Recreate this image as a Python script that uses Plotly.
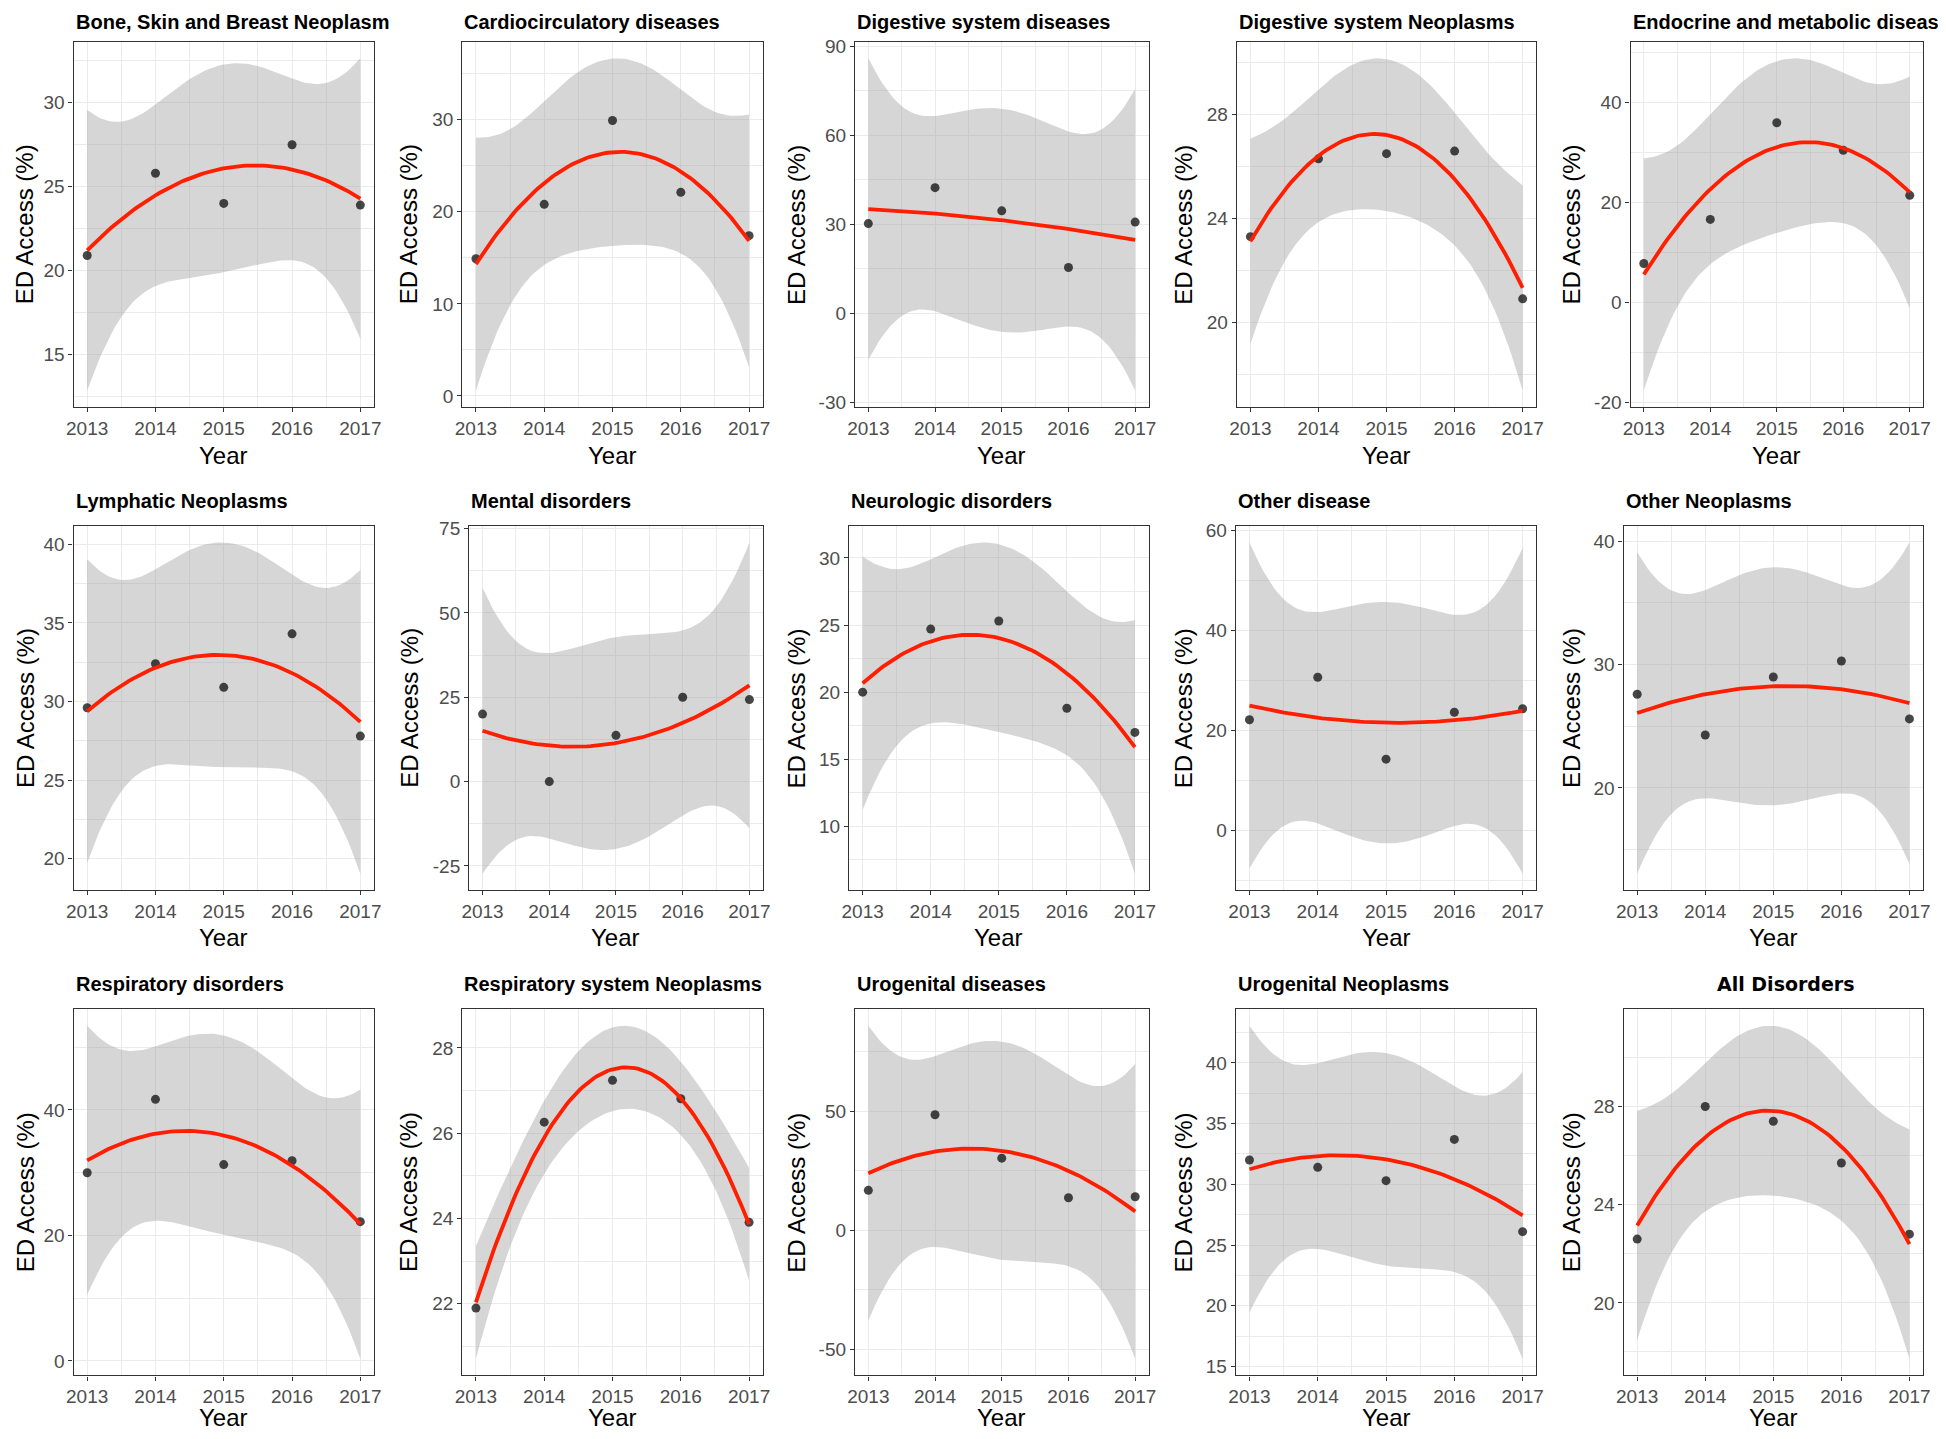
import numpy as np
import plotly.graph_objects as go

# the page keeps the browser's 8px body margin, so the figure is sized to fill
# the 1946x1439 window exactly and page pixels are shifted by OFF
PAGE_W, PAGE_H = 1946, 1439
OFF = 8
W, H = PAGE_W - 2 * OFF, PAGE_H - 2 * OFF

years = [2013, 2014, 2015, 2016, 2017]

bone_skin_breast = [20.9, 25.8, 24.0, 27.5, 23.9]
cardiocirculatory = [14.9, 20.8, 29.9, 22.1, 17.4]
digestive_diseases = [30.2, 42.3, 34.5, 15.4, 30.7]
digestive_neoplasms = [23.3, 26.3, 26.5, 26.6, 20.9]
endocrine_metabolic = [7.8, 16.6, 35.9, 30.4, 21.4]
lymphatic_neoplasms = [29.6, 32.4, 30.9, 34.3, 27.8]
mental_disorders = [20.0, 0.0, 13.7, 25.0, 24.3]
neurologic_disorders = [20.0, 24.7, 25.3, 18.8, 17.0]
other_disease = [22.1, 30.6, 14.2, 23.6, 24.3]
other_neoplasms = [27.6, 24.3, 29.0, 30.3, 25.6]
respiratory_disorders = [30.0, 41.7, 31.3, 31.9, 22.2]
respiratory_neoplasms = [21.9, 26.26, 27.24, 26.81, 23.91]
urogenital_diseases = [16.8, 48.5, 30.3, 13.7, 14.1]
urogenital_neoplasms = [32.0, 31.4, 30.3, 33.7, 26.1]
all_disorders = [22.6, 28.0, 27.4, 25.7, 22.8]

titles = [
    "Bone, Skin and Breast Neoplasm", "Cardiocirculatory diseases", "Digestive system diseases",
    "Digestive system Neoplasms", "Endocrine and metabolic diseases",
    "Lymphatic Neoplasms", "Mental disorders", "Neurologic disorders", "Other disease", "Other Neoplasms",
    "Respiratory disorders", "Respiratory system Neoplasms", "Urogenital diseases",
    "Urogenital Neoplasms", "All Disorders",
]

series = [
    bone_skin_breast, cardiocirculatory, digestive_diseases, digestive_neoplasms, endocrine_metabolic,
    lymphatic_neoplasms, mental_disorders, neurologic_disorders, other_disease, other_neoplasms,
    respiratory_disorders, respiratory_neoplasms, urogenital_diseases, urogenital_neoplasms, all_disorders,
]

y_ticks = [
    [15, 20, 25, 30], [0, 10, 20, 30], [-30, 0, 30, 60, 90], [20, 24, 28], [-20, 0, 20, 40],
    [20, 25, 30, 35, 40], [-25, 0, 25, 50, 75], [10, 15, 20, 25, 30], [0, 20, 40, 60], [20, 30, 40],
    [0, 20, 40], [22, 24, 26, 28], [-50, 0, 50], [15, 20, 25, 30, 35, 40], [20, 24, 28],
]

# panel frames in page pixels
frame_left = [
    [66, 458, 854, 1239, 1636],
    [66, 465, 848, 1238, 1629],
    [66, 458, 854, 1238, 1629],
]
frame_right = [369, 761, 1150, 1541, 1931]
frame_top = [34, 523, 1011]
frame_bottom = [403, 891, 1381]
title_y = [14, 498, 986]
xtitle_y = [452, 939, 1423]
ytitle_x = [17, 404, 795, 1185, 1576]

FONT = "Liberation Sans, Arial, sans-serif"
T_CRIT = 4.302653  # qt(0.975, df=2)


def px(p):
    return (p - OFF) / W


def py(p):
    return 1 - (p - OFF) / H


def quad_fit(xs, ys, n=80):
    x = np.asarray(xs, float) - 2015
    y = np.asarray(ys, float)
    X = np.column_stack([np.ones_like(x), x, x ** 2])
    beta, *_ = np.linalg.lstsq(X, y, rcond=None)
    resid = y - X @ beta
    s2 = resid @ resid / (len(y) - 3)
    xtx_inv = np.linalg.inv(X.T @ X)
    grid = np.linspace(x.min(), x.max(), n)
    G = np.column_stack([np.ones_like(grid), grid, grid ** 2])
    fit = G @ beta
    se = np.sqrt(s2 * np.einsum("ij,jk,ik->i", G, xtx_inv, G))
    return grid + 2015, fit, fit - T_CRIT * se, fit + T_CRIT * se


def minor_vals(ticks):
    step = ticks[1] - ticks[0]
    return [ticks[0] - step / 2] + [t + step / 2 for t in ticks]


fig = go.Figure()
annotations = []

for i, (title, values, ticks) in enumerate(zip(titles, series, y_ticks)):
    r, c = divmod(i, 5)
    n = i + 1
    xa = "x" if n == 1 else f"x{n}"
    ya = "y" if n == 1 else f"y{n}"

    gx, fit, lower, upper = quad_fit(years, values)

    fig.add_trace(go.Scatter(
        x=list(gx) + list(gx[::-1]), y=list(upper) + list(lower[::-1]),
        fill="toself", fillcolor="rgba(153,153,153,0.4)", line=dict(width=0),
        mode="lines", hoverinfo="skip", showlegend=False, xaxis=xa, yaxis=ya,
    ))
    fig.add_trace(go.Scatter(
        x=years, y=values, mode="markers",
        marker=dict(size=9, color="rgba(20,20,20,0.78)"),
        showlegend=False, xaxis=xa, yaxis=ya,
    ))
    fig.add_trace(go.Scatter(
        x=gx, y=fit, mode="lines", line=dict(color="#FF1E00", width=3.8),
        showlegend=False, xaxis=xa, yaxis=ya,
    ))

    lo = min(lower.min(), min(values))
    hi = max(upper.max(), max(values))
    pad = 0.05 * (hi - lo)

    common = dict(
        showline=True, mirror=True, linecolor="#333333", linewidth=1.3,
        ticks="outside", ticklen=4, tickcolor="#333333", tickwidth=1.2,
        showgrid=True, gridcolor="#EBEBEB", gridwidth=1.4, zeroline=False,
        tickfont=dict(family=FONT, size=19, color="#4D4D4D"),
    )
    xaxis = dict(common)
    xaxis.update(
        domain=[px(frame_left[r][c]), px(frame_right[c])], anchor=ya, range=[2012.8, 2017.2],
        tickmode="array", tickvals=years, ticktext=[str(v) for v in years],
        minor=dict(tickmode="array", tickvals=[2013.5, 2014.5, 2015.5, 2016.5],
                   showgrid=True, gridcolor="#EBEBEB", gridwidth=0.8, ticklen=0),
    )
    yaxis = dict(common)
    yaxis.update(
        domain=[py(frame_bottom[r]), py(frame_top[r])], anchor=xa, range=[lo - pad, hi + pad],
        tickmode="array", tickvals=ticks, ticktext=[str(t) for t in ticks],
        minor=dict(tickmode="array", tickvals=minor_vals(ticks),
                   showgrid=True, gridcolor="#EBEBEB", gridwidth=0.8, ticklen=0),
    )
    fig.layout["xaxis" if n == 1 else f"xaxis{n}"] = xaxis
    fig.layout["yaxis" if n == 1 else f"yaxis{n}"] = yaxis

    # panel title
    if title == "All Disorders":
        annotations.append(dict(
            text="<b>All Disorders</b>", x=px(1793), y=py(title_y[r]),
            xref="paper", yref="paper", xanchor="center", yanchor="middle", showarrow=False,
            font=dict(family="DejaVu Sans, sans-serif", size=19, color="black"),
        ))
    else:
        annotations.append(dict(
            text=f"<b>{title}</b>", x=px(frame_left[r][c]), y=py(title_y[r]),
            xref="paper", yref="paper", xanchor="left", yanchor="middle", showarrow=False,
            font=dict(family=FONT, size=20, color="black"),
        ))
    # axis titles
    annotations.append(dict(
        text="Year", x=px((frame_left[r][c] + frame_right[c]) / 2), y=py(xtitle_y[r]),
        xref="paper", yref="paper", xanchor="center", yanchor="middle", showarrow=False,
        font=dict(family=FONT, size=24, color="black"),
    ))
    annotations.append(dict(
        text="ED Access (%)", x=px(ytitle_x[c]),
        y=py((frame_top[r] + frame_bottom[r]) / 2),
        xref="paper", yref="paper", xanchor="center", yanchor="middle", showarrow=False,
        textangle=-90, font=dict(family=FONT, size=24, color="black"),
    ))

fig.update_layout(
    width=W, height=H, margin=dict(l=0, r=0, t=0, b=0),
    paper_bgcolor="white", plot_bgcolor="white",
    annotations=annotations, showlegend=False,
)

fig.write_html("out.html", config={"displayModeBar": False})
